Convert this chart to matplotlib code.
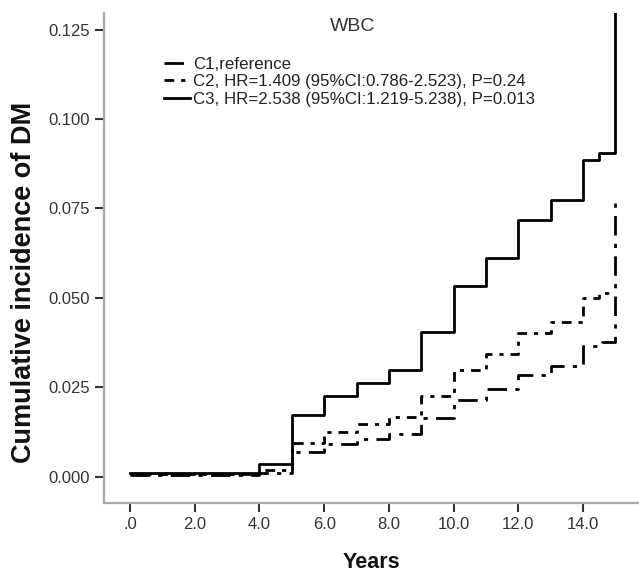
import matplotlib
matplotlib.use("Agg")
import matplotlib.pyplot as plt

plt.rcParams['font.family'] = ['Liberation Sans', 'DejaVu Sans']

# follow-up years at which each curve steps, and cumulative incidence
c1_years = [0, 4, 5, 6, 7, 8, 9, 10, 11, 12, 13, 14, 14.6, 15]
c1_inc = [0.0005, 0.0009, 0.0070, 0.0092, 0.0106, 0.0120, 0.0165, 0.0215,
          0.0246, 0.0285, 0.0310, 0.0365, 0.0377, 0.0782]

c2_years = [0, 4, 5, 6, 7, 8, 9, 10, 11, 12, 13, 14, 14.5, 15]
c2_inc = [0.0008, 0.0020, 0.0095, 0.0126, 0.0148, 0.0168, 0.0226, 0.0299,
          0.0344, 0.0402, 0.0433, 0.0500, 0.0514, 0.0514]

c3_years = [0, 4, 5, 6, 7, 8, 9, 10, 11, 12, 13, 14, 14.5, 15]
c3_inc = [0.0011, 0.0036, 0.0173, 0.0225, 0.0263, 0.0299, 0.0405, 0.0532,
          0.0612, 0.0718, 0.0774, 0.0885, 0.0905, 0.135]

labels = ['C1,reference',
          'C2, HR=1.409 (95%CI:0.786-2.523), P=0.24',
          'C3, HR=2.538 (95%CI:1.219-5.238), P=0.013']

x_ticks = [0, 2, 4, 6, 8, 10, 12, 14]
x_ticklabels = ['.0', '2.0', '4.0', '6.0', '8.0', '10.0', '12.0', '14.0']
y_ticks = [0.0, 0.025, 0.05, 0.075, 0.1, 0.125]

fig = plt.figure(figsize=(6.39, 5.74), dpi=100)
ax = fig.add_axes([0.163, 0.124, 0.837, 0.853])

ax.step(c1_years, c1_inc, where='post', color='black', lw=2.0,
        dashes=(7, 3, 1.5, 3), label=labels[0])
ax.step(c2_years, c2_inc, where='post', color='black', lw=2.0,
        dashes=(3.5, 2.5, 1.5, 2.5), label=labels[1])
ax.step(c3_years, c3_inc, where='post', color='black', lw=2.0,
        label=labels[2])

ax.set_xlim(-0.8, 15.73)
ax.set_ylim(-0.0073, 0.1296)
ax.set_xticks(x_ticks)
ax.set_xticklabels(x_ticklabels)
ax.set_yticks(y_ticks)
ax.set_yticklabels(['%.3f' % v for v in y_ticks])

for side in ['top', 'right']:
    ax.spines[side].set_visible(False)
for side in ['left', 'bottom']:
    ax.spines[side].set_color('#a8a8a8')
    ax.spines[side].set_linewidth(1.6)

ax.tick_params(axis='both', direction='out', length=6.5, width=1.5,
               color='#333333', labelsize=12, labelcolor='#333333')
ax.tick_params(axis='x', pad=4)
ax.tick_params(axis='y', pad=4)

ax.set_xlabel('Years', fontsize=15.5, fontweight='bold', color='#111111')
ax.xaxis.set_label_coords(0.499, -0.1)
ax.set_ylabel('Cumulative incidence of DM', fontsize=19.5, fontweight='bold',
              color='#111111')
ax.yaxis.set_label_coords(-0.125, 0.451)

ax.text(0.465, 0.973, 'WBC', transform=ax.transAxes, fontsize=14,
        color='#333333', ha='center', va='center')

ax.legend(loc='upper left', bbox_to_anchor=(0.10, 0.925), frameon=False,
          fontsize=12.2, handlelength=1.5, handletextpad=0.2,
          labelspacing=0.15, borderaxespad=0, labelcolor='#222222')

fig.savefig('out.png', dpi=100)
